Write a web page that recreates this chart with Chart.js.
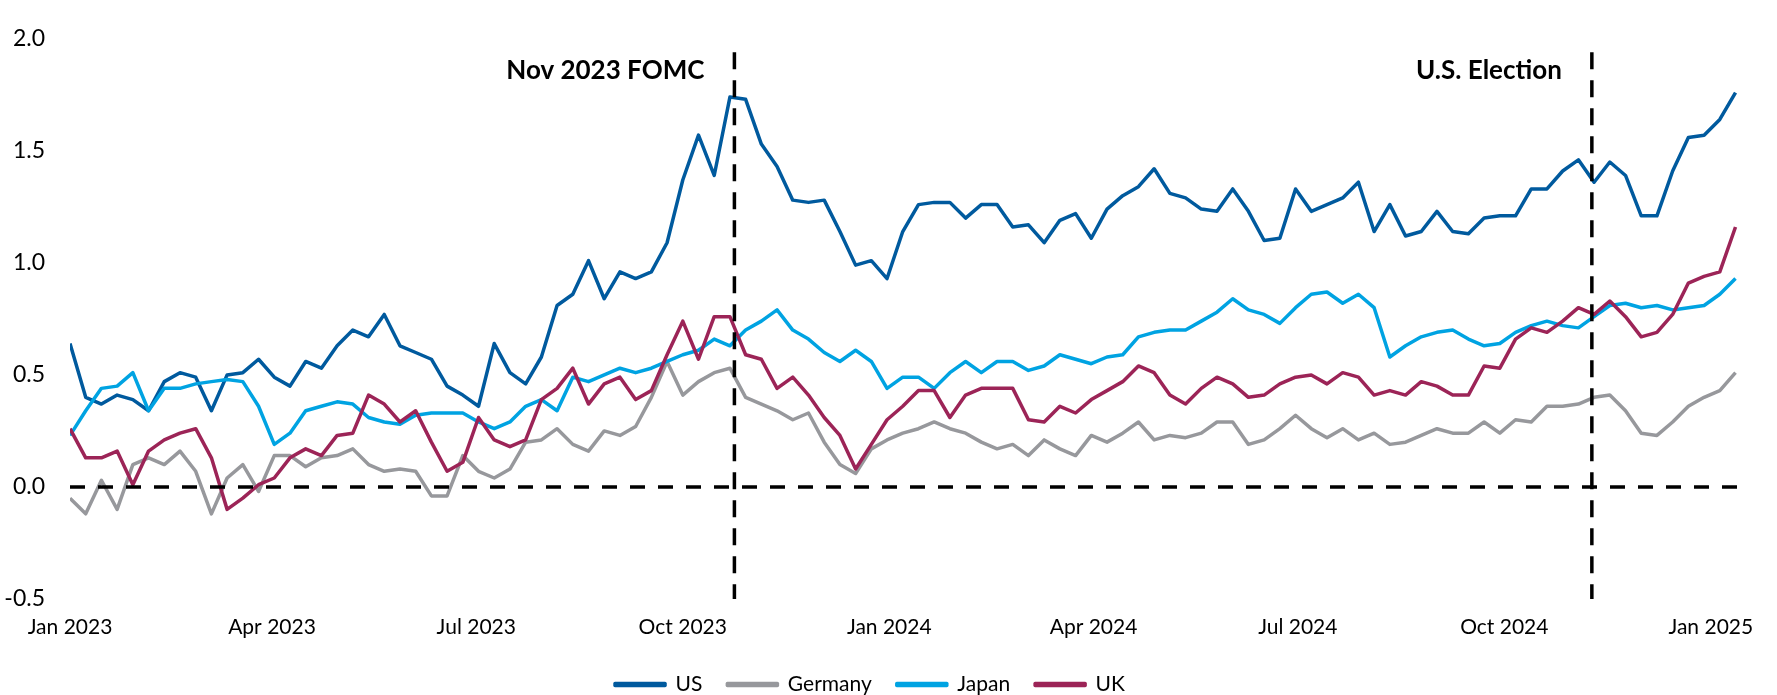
<!DOCTYPE html>
<html>
<head>
<meta charset="utf-8">
<script src="https://cdn.jsdelivr.net/npm/chart.js@4.4.1/dist/chart.umd.min.js"></script>
<style>
  html, body { margin: 0; padding: 0; background: #fff; }
  canvas { display: block; }
</style>
</head>
<body>
<canvas id="chart" width="1777" height="695"></canvas>
<script>
// weekly readings, first point = 1 Jan 2023
const usValues = [
  0.64, 0.40, 0.37, 0.41, 0.39, 0.34, 0.47, 0.51, 0.49, 0.34, 0.50, 0.51, 0.57, 0.49, 0.45, 0.56, 0.53, 0.63, 0.70, 0.67, 0.77,
  0.63, 0.60, 0.57, 0.45, 0.41, 0.36, 0.64, 0.51, 0.46, 0.58, 0.81, 0.86, 1.01, 0.84, 0.96, 0.93, 0.96, 1.09, 1.37, 1.57, 1.39,
  1.74, 1.73, 1.53, 1.43, 1.28, 1.27, 1.28, 1.14, 0.99, 1.01, 0.93, 1.14, 1.26, 1.27, 1.27, 1.20, 1.26, 1.26, 1.16, 1.17, 1.09, 1.19,
  1.22, 1.11, 1.24, 1.30, 1.34, 1.42, 1.31, 1.29, 1.24, 1.23, 1.33, 1.23, 1.10, 1.11, 1.33, 1.23, 1.26, 1.29, 1.36, 1.14, 1.26, 1.12,
  1.14, 1.23, 1.14, 1.13, 1.20, 1.21, 1.21, 1.33, 1.33, 1.41, 1.46, 1.36, 1.45, 1.39, 1.21, 1.21, 1.41, 1.56, 1.57, 1.64, 1.76
];
const germanyValues = [
  -0.05, -0.12, 0.03, -0.10, 0.10, 0.13, 0.10, 0.16, 0.07, -0.12, 0.04, 0.10, -0.02, 0.14, 0.14, 0.09, 0.13, 0.14, 0.17, 0.10, 0.07,
  0.08, 0.07, -0.04, -0.04, 0.14, 0.07, 0.04, 0.08, 0.20, 0.21, 0.26, 0.19, 0.16, 0.25, 0.23, 0.27, 0.40, 0.56, 0.41, 0.47, 0.51,
  0.53, 0.40, 0.37, 0.34, 0.30, 0.33, 0.20, 0.10, 0.06, 0.17, 0.21, 0.24, 0.26, 0.29, 0.26, 0.24, 0.20, 0.17, 0.19, 0.14, 0.21, 0.17,
  0.14, 0.23, 0.20, 0.24, 0.29, 0.21, 0.23, 0.22, 0.24, 0.29, 0.29, 0.19, 0.21, 0.26, 0.32, 0.26, 0.22, 0.26, 0.21, 0.24, 0.19, 0.20,
  0.23, 0.26, 0.24, 0.24, 0.29, 0.24, 0.30, 0.29, 0.36, 0.36, 0.37, 0.40, 0.41, 0.34, 0.24, 0.23, 0.29, 0.36, 0.40, 0.43, 0.51
];
const japanValues = [
  0.23, 0.34, 0.44, 0.45, 0.51, 0.34, 0.44, 0.44, 0.46, 0.47, 0.48, 0.47, 0.36, 0.19, 0.24, 0.34, 0.36, 0.38, 0.37, 0.31, 0.29,
  0.28, 0.32, 0.33, 0.33, 0.33, 0.29, 0.26, 0.29, 0.36, 0.39, 0.34, 0.49, 0.47, 0.50, 0.53, 0.51, 0.53, 0.56, 0.59, 0.61, 0.66,
  0.63, 0.70, 0.74, 0.79, 0.70, 0.66, 0.60, 0.56, 0.61, 0.56, 0.44, 0.49, 0.49, 0.44, 0.51, 0.56, 0.51, 0.56, 0.56, 0.52, 0.54, 0.59,
  0.57, 0.55, 0.58, 0.59, 0.67, 0.69, 0.70, 0.70, 0.74, 0.78, 0.84, 0.79, 0.77, 0.73, 0.80, 0.86, 0.87, 0.82, 0.86, 0.80, 0.58, 0.63,
  0.67, 0.69, 0.70, 0.66, 0.63, 0.64, 0.69, 0.72, 0.74, 0.72, 0.71, 0.76, 0.81, 0.82, 0.80, 0.81, 0.79, 0.80, 0.81, 0.86, 0.93
];
const ukValues = [
  0.26, 0.13, 0.13, 0.16, 0.01, 0.16, 0.21, 0.24, 0.26, 0.13, -0.10, -0.05, 0.01, 0.04, 0.13, 0.17, 0.14, 0.23, 0.24, 0.41, 0.37,
  0.29, 0.34, 0.20, 0.07, 0.11, 0.31, 0.21, 0.18, 0.21, 0.39, 0.44, 0.53, 0.37, 0.46, 0.49, 0.39, 0.43, 0.59, 0.74, 0.57, 0.76,
  0.76, 0.59, 0.57, 0.44, 0.49, 0.41, 0.31, 0.23, 0.08, 0.19, 0.30, 0.36, 0.43, 0.43, 0.31, 0.41, 0.44, 0.44, 0.44, 0.30, 0.29, 0.36,
  0.33, 0.39, 0.43, 0.47, 0.54, 0.51, 0.41, 0.37, 0.44, 0.49, 0.46, 0.40, 0.41, 0.46, 0.49, 0.50, 0.46, 0.51, 0.49, 0.41, 0.43, 0.41,
  0.47, 0.45, 0.41, 0.41, 0.54, 0.53, 0.66, 0.71, 0.69, 0.74, 0.80, 0.77, 0.83, 0.76, 0.67, 0.69, 0.77, 0.91, 0.94, 0.96, 1.16
];

// days since 1 Jan 2023
const tickDays = [0, 90, 181, 273, 365, 456, 547, 639, 731];
const tickLabels = ["Jan 2023", "Apr 2023", "Jul 2023", "Oct 2023", "Jan 2024", "Apr 2024", "Jul 2024", "Oct 2024", "Jan 2025"];

const eventDays = [296, 678];
const eventLabels = ["Nov 2023 FOMC", "U.S. Election"];

const FONT = "Lato";
const weekDays = usValues.map((v, i) => i * 7);
const toPoints = (vals) => vals.map((v, i) => ({ x: weekDays[i], y: v }));

const series = [
  { label: "US", values: usValues, color: "#005a9e", order: 4 },
  { label: "Germany", values: germanyValues, color: "#97989c", order: 3 },
  { label: "Japan", values: japanValues, color: "#00a3e2", order: 2 },
  { label: "UK", values: ukValues, color: "#9c2457", order: 1 },
];

const datasets = series.map((s) => ({
  label: s.label,
  data: toPoints(s.values),
  borderColor: s.color,
  backgroundColor: s.color,
  borderWidth: 3.5,
  pointRadius: 0,
  tension: 0,
  borderJoinStyle: "round",
  order: s.order,
}));

// zero line
datasets.push({
  label: "zero",
  data: [{ x: 0, y: 0 }, { x: 744, y: 0 }],
  borderColor: "#000",
  borderWidth: 3.5,
  borderDash: [15, 13],
  pointRadius: 0,
  order: 0,
});

// event lines
eventDays.forEach((d) => {
  datasets.push({
    label: "event",
    data: [{ x: d, y: 1.94 }, { x: d, y: -0.5 }],
    borderColor: "#000",
    borderWidth: 3.5,
    borderDash: [17, 11],
    pointRadius: 0,
    order: 0,
    clip: false,
  });
});

const eventLabelPlugin = {
  id: "eventLabels",
  afterDatasetsDraw(chart) {
    const { ctx, scales } = chart;
    ctx.save();
    ctx.font = "bold 26px " + FONT;
    ctx.fillStyle = "#000";
    ctx.textAlign = "right";
    ctx.textBaseline = "middle";
    eventDays.forEach((d, i) => {
      ctx.fillText(eventLabels[i], scales.x.getPixelForValue(d) - 30, scales.y.getPixelForValue(1.86));
    });
    ctx.restore();
  },
};

new Chart(document.getElementById("chart"), {
  type: "line",
  data: { datasets },
  plugins: [eventLabelPlugin],
  options: {
    responsive: false,
    animation: false,
    layout: { autoPadding: false, padding: { left: 0, right: 37, top: 17, bottom: 0 } },
    plugins: {
      tooltip: { enabled: false },
      legend: {
        position: "bottom",
        maxHeight: 46,
        labels: {
          filter: (item) => item.text !== "zero" && item.text !== "event",
          sort: (a, b) => a.datasetIndex - b.datasetIndex,
          boxWidth: 50,
          boxHeight: 2,
          padding: 25,
          color: "#000",
          font: { family: FONT, size: 21 },
        },
      },
    },
    scales: {
      x: {
        type: "linear",
        min: 0,
        max: 744,
        grid: { display: false, drawTicks: false },
        border: { display: false },
        afterBuildTicks: (axis) => { axis.ticks = tickDays.map((v) => ({ value: v })); },
        afterFit: (axis) => { axis.height = 50; },
        ticks: {
          autoSkip: false,
          maxRotation: 0,
          padding: 16,
          color: "#000",
          font: { family: FONT, size: 21 },
          callback: (v) => {
            const i = tickDays.indexOf(v);
            return i >= 0 ? tickLabels[i] : "";
          },
        },
      },
      y: {
        min: -0.5,
        max: 2.0,
        grid: { display: false, drawTicks: false },
        border: { display: false },
        afterFit: (axis) => { axis.width = 70; },
        ticks: {
          stepSize: 0.5,
          padding: 25,
          color: "#000",
          font: { family: FONT, size: 23 },
          callback: (v) => v.toFixed(1),
        },
      },
    },
  },
});
</script>
</body>
</html>
